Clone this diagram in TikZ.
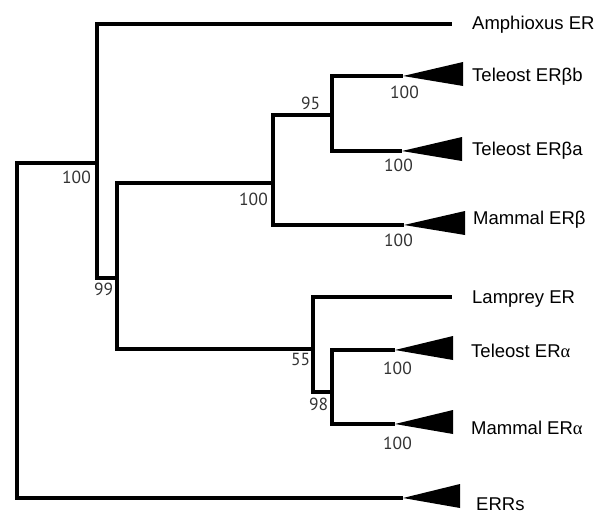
\documentclass[tikz,border=0pt]{standalone}
\usepackage{fontspec}
\setmainfont{Liberation Sans}
\newfontfamily\bootfont{PT Sans}
\newfontfamily\grkfont{Liberation Serif}
\usetikzlibrary{positioning,calc}
\newcommand{\ERa}{ER{\grkfont α}}
\newcommand{\clade}[2]{\fill (#1) -- ++(#2,-14) -- ++(0,24) -- cycle;}

\begin{document}
\begin{tikzpicture}[x=1pt,y=-1pt,
   branch/.style={line width=3.3pt},
   taxon/.style={anchor=base west,inner sep=0pt,font=\fontsize{18.5}{20}\selectfont},
   boot/.style={anchor=base west,inner sep=0pt,text=black!80,font=\bootfont\fontsize{17.5}{18}\selectfont}]
  \useasboundingbox (0,0) rectangle (613,519);
  % internal nodes of the tree
  \coordinate (root) at (17,330);
  \coordinate (nA) at (97,163);
  \coordinate (nB) at (117,278);
  \coordinate (nC) at (273,183);
  \coordinate (nD) at (332,115);
  \coordinate (nE) at (313,349);
  \coordinate (nF) at (332,392);
  % tips
  \coordinate (tAmph) at (452,24);
  \coordinate (tBb) at (403,76);
  \coordinate (tBa) at (402,151);
  \coordinate (tBm) at (404,225);
  \coordinate (tLamp) at (452,297);
  \coordinate (tAt) at (395,350);
  \coordinate (tAm) at (395,424);
  \coordinate (tErr) at (403,498);

  \draw[branch] (root) |- (nA);
  \draw[branch] (root) |- (tErr);
  \draw[branch] (nA) |- (tAmph);
  \draw[branch] (nA) |- (nB);
  \draw[branch] (nB) |- (nC);
  \draw[branch] (nB) |- (nE);
  \draw[branch] (nC) |- (nD);
  \draw[branch] (nC) |- (tBm);
  \draw[branch] (nD) |- (tBb);
  \draw[branch] (nD) |- (tBa);
  \draw[branch] (nE) |- (tLamp);
  \draw[branch] (nE) |- (nF);
  \draw[branch] (nF) |- (tAt);
  \draw[branch] (nF) |- (tAm);

  % collapsed clades
  \clade{tBb}{60}
  \clade{tBa}{60}
  \clade{tBm}{61}
  \clade{tAt}{58}
  \clade{tAm}{58}
  \clade{tErr}{57}

  \node[taxon] (lAmph) at (472,29.5) {Amphioxus ER};
  \node[taxon] (lBb) at (472,81.7) {Teleost ERβb};
  \node[taxon] (lBa) at (472,155) {Teleost ERβa};
  \node[taxon] (lBm) at (473,224) {Mammal ERβ};
  \node[taxon] (lLamp) at (472,303.3) {Lamprey ER};
  \node[taxon] (lAt) at (471,357.3) {Teleost \ERa};
  \node[taxon] (lAm) at (471,434.3) {Mammal \ERa};
  \node[taxon] (lErr) at (476,510) {ERRs};

  % support values
  \node[boot] (bA) at (62,183.3) {100};
  \node[boot] (bB) at (94,295) {99};
  \node[boot] (bC) at (239,205.7) {100};
  \node[boot] (bD) at (301,110) {95};
  \node[boot] (bE) at (291,365) {55};
  \node[boot] (bF) at (309,410) {98};
  \node[boot] (bBb) at (390,98.3) {100};
  \node[boot] (bBa) at (384,171) {100};
  \node[boot] (bBm) at (384,246) {100};
  \node[boot] (bAt) at (383,374.3) {100};
  \node[boot] (bAm) at (383,449) {100};
\end{tikzpicture}
\end{document}
